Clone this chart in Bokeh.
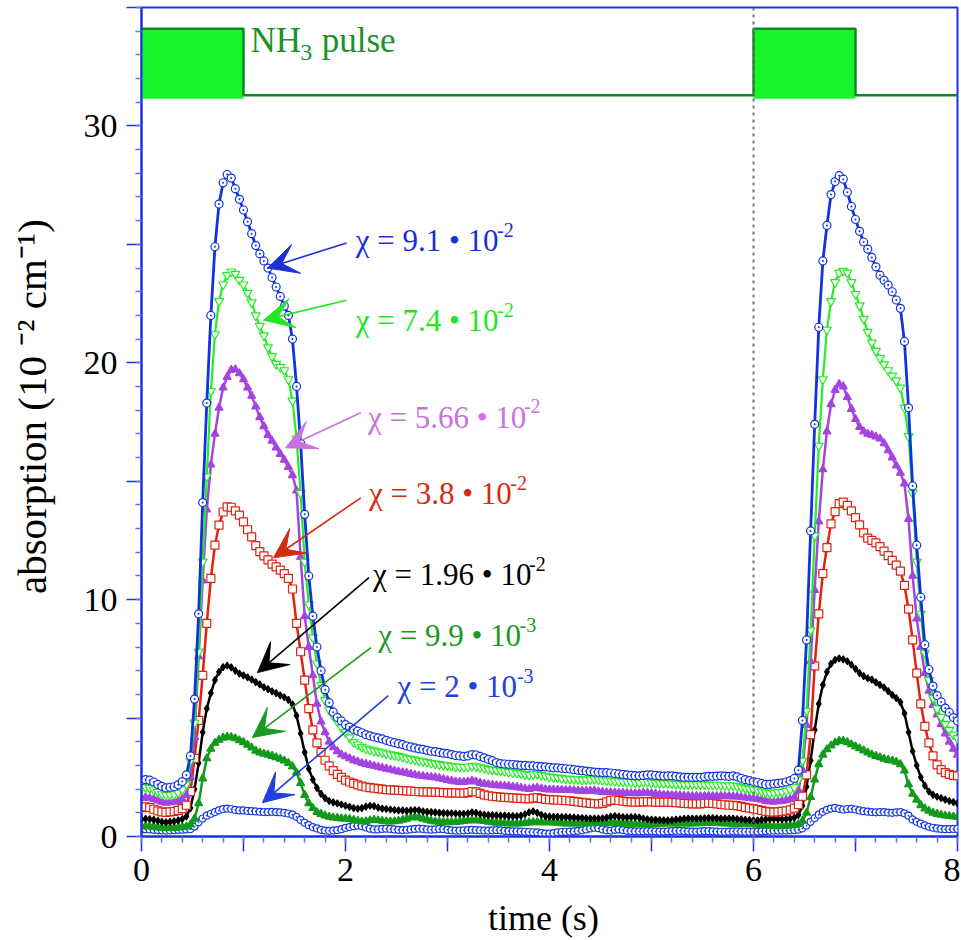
import math
from bokeh.plotting import figure
from bokeh.layouts import column
from bokeh.models import Range1d, FixedTicker, Label, Arrow, VeeHead, Span
from bokeh.embed import file_html
from bokeh.resources import INLINE

# ---------------- data ----------------
time_s = [round(0.04 * i, 2) for i in range(201)]

chi_91 = [
    2.35, 2.40, 2.38, 2.30, 2.20, 2.12, 2.05, 2.08, 2.10, 2.18,
    2.32, 2.60, 3.40, 5.80, 9.40, 14.1, 18.3, 22.0, 24.9, 26.7,
    27.6, 27.95, 27.8, 27.35, 26.9, 26.45, 25.95, 25.45, 24.95, 24.6,
    24.3, 24.0, 23.6, 23.2, 22.8, 22.4, 22.0, 21.0, 19.0, 16.6,
    13.6, 11.0, 9.3, 8.0, 7.0, 6.2, 5.65, 5.25, 5.02, 4.88,
    4.72, 4.62, 4.52, 4.45, 4.38, 4.30, 4.25, 4.20, 4.16, 4.12,
    4.06, 4.00, 3.96, 3.92, 3.88, 3.82, 3.78, 3.74, 3.70, 3.68,
    3.64, 3.60, 3.58, 3.55, 3.52, 3.50, 3.46, 3.42, 3.40, 3.38,
    3.40, 3.46, 3.44, 3.38, 3.32, 3.26, 3.20, 3.12, 3.08, 3.06,
    3.05, 3.04, 3.02, 3.00, 3.00, 2.98, 2.98, 2.96, 2.95, 2.94,
    2.92, 2.90, 2.90, 2.88, 2.86, 2.85, 2.82, 2.80, 2.78, 2.76,
    2.74, 2.72, 2.71, 2.70, 2.70, 2.68, 2.66, 2.64, 2.62, 2.60,
    2.58, 2.57, 2.56, 2.58, 2.60, 2.60, 2.58, 2.56, 2.55, 2.56,
    2.56, 2.54, 2.52, 2.50, 2.50, 2.50, 2.50, 2.50, 2.52, 2.54,
    2.54, 2.55, 2.56, 2.55, 2.54, 2.56, 2.52, 2.46, 2.40, 2.36,
    2.32, 2.28, 2.24, 2.20, 2.20, 2.22, 2.24, 2.26, 2.30, 2.36,
    2.45, 2.80, 4.90, 8.30, 12.9, 17.4, 21.5, 24.3, 25.8, 27.1,
    27.65, 27.9, 27.75, 27.2, 26.6, 26.05, 25.55, 25.1, 24.8, 24.45,
    24.05, 23.7, 23.48, 23.28, 23.0, 22.65, 22.3, 20.9, 18.1, 14.8,
    12.3, 10.1, 8.1, 7.05, 6.35, 5.95, 5.68, 5.42, 5.24, 5.02,
    4.88,
]

chi_74 = [
    2.05, 2.08, 2.05, 1.98, 1.88, 1.80, 1.75, 1.76, 1.78, 1.85,
    1.98, 2.20, 3.20, 4.80, 7.80, 11.6, 15.2, 18.8, 21.2, 22.6,
    23.3, 23.7, 23.85, 23.75, 23.5, 23.3, 22.95, 22.55, 22.0, 21.55,
    21.15, 20.65, 20.28, 19.95, 19.82, 19.68, 19.3, 18.4, 16.8, 14.5,
    11.6, 9.8, 8.4, 7.3, 6.4, 5.75, 5.35, 5.1, 4.85, 4.6,
    4.40, 4.18, 3.98, 3.88, 3.78, 3.71, 3.66, 3.62, 3.58, 3.55,
    3.50, 3.46, 3.43, 3.40, 3.36, 3.30, 3.27, 3.24, 3.20, 3.17,
    3.14, 3.10, 3.07, 3.05, 3.02, 3.00, 2.98, 2.96, 2.94, 2.93,
    2.94, 2.98, 2.96, 2.92, 2.88, 2.84, 2.82, 2.80, 2.78, 2.76,
    2.72, 2.70, 2.68, 2.66, 2.62, 2.60, 2.62, 2.64, 2.60, 2.56,
    2.52, 2.50, 2.48, 2.46, 2.44, 2.43, 2.42, 2.42, 2.40, 2.40,
    2.41, 2.42, 2.40, 2.38, 2.36, 2.35, 2.34, 2.32, 2.31, 2.30,
    2.29, 2.28, 2.28, 2.30, 2.30, 2.28, 2.26, 2.25, 2.25, 2.25,
    2.24, 2.22, 2.21, 2.20, 2.20, 2.21, 2.20, 2.20, 2.20, 2.19,
    2.18, 2.18, 2.17, 2.16, 2.16, 2.15, 2.12, 2.08, 2.04, 2.01,
    1.98, 1.95, 1.90, 1.86, 1.84, 1.84, 1.86, 1.88, 1.92, 1.98,
    2.08, 2.40, 3.20, 5.30, 8.70, 12.7, 16.5, 19.3, 21.4, 22.6,
    23.4, 23.8, 23.88, 23.8, 23.4, 22.9, 22.42, 21.85, 21.3, 20.85,
    20.5, 20.2, 19.93, 19.68, 19.45, 19.25, 18.95, 18.1, 16.9, 14.5,
    11.6, 9.4, 7.75, 6.6, 5.85, 5.4, 5.05, 4.75, 4.5, 4.3,
    4.15,
]

chi_566 = [
    1.62, 1.65, 1.62, 1.58, 1.52, 1.46, 1.42, 1.44, 1.46, 1.50,
    1.58, 1.75, 2.50, 4.20, 7.60, 10.8, 13.8, 15.7, 17.0, 18.1,
    18.95, 19.4, 19.7, 19.72, 19.55, 19.3, 18.95, 18.6, 18.15, 17.7,
    17.32, 16.95, 16.7, 16.42, 16.15, 15.9, 15.6, 15.25, 14.6, 11.8,
    9.3, 8.0, 6.8, 5.6, 4.85, 4.4, 4.0, 3.76, 3.6, 3.46,
    3.38, 3.30, 3.22, 3.16, 3.10, 3.06, 3.02, 2.98, 2.94, 2.90,
    2.86, 2.82, 2.78, 2.74, 2.71, 2.68, 2.64, 2.60, 2.57, 2.55,
    2.53, 2.51, 2.49, 2.46, 2.42, 2.38, 2.35, 2.32, 2.30, 2.30,
    2.32, 2.36, 2.32, 2.26, 2.22, 2.20, 2.18, 2.16, 2.15, 2.14,
    2.12, 2.10, 2.08, 2.05, 2.02, 2.00, 2.04, 2.06, 2.02, 1.99,
    1.98, 1.98, 1.97, 1.97, 1.96, 1.96, 1.95, 1.93, 1.92, 1.92,
    1.92, 1.93, 1.90, 1.88, 1.86, 1.86, 1.85, 1.84, 1.84, 1.83,
    1.82, 1.82, 1.82, 1.84, 1.84, 1.82, 1.80, 1.78, 1.76, 1.76,
    1.75, 1.74, 1.73, 1.72, 1.71, 1.70, 1.70, 1.69, 1.70, 1.70,
    1.70, 1.70, 1.71, 1.70, 1.70, 1.69, 1.68, 1.66, 1.64, 1.62,
    1.60, 1.58, 1.55, 1.50, 1.47, 1.46, 1.48, 1.50, 1.53, 1.57,
    1.66, 1.95, 2.80, 4.70, 7.40, 10.4, 13.3, 15.5, 17.1, 18.25,
    18.85, 19.1, 19.0, 18.55, 18.05, 17.62, 17.28, 17.1, 17.0, 16.95,
    16.88, 16.8, 16.6, 16.3, 16.0, 15.66, 15.35, 14.9, 13.4, 11.0,
    9.2, 8.0, 6.9, 6.15, 5.55, 5.15, 4.75, 4.35, 4.0, 3.7,
    3.45,
]

chi_38 = [
    1.22, 1.25, 1.22, 1.15, 1.08, 1.04, 1.02, 1.04, 1.06, 1.10,
    1.18, 1.32, 1.90, 3.30, 4.90, 6.80, 9.00, 10.9, 12.3, 13.15,
    13.7, 13.92, 13.9, 13.75, 13.57, 13.28, 12.95, 12.65, 12.28, 12.03,
    11.85, 11.68, 11.5, 11.38, 11.25, 11.1, 10.9, 10.45, 9.0, 7.8,
    6.6, 5.4, 4.5, 3.95, 3.55, 3.22, 2.98, 2.78, 2.62, 2.5,
    2.38, 2.30, 2.24, 2.18, 2.13, 2.09, 2.06, 2.04, 2.02, 2.00,
    1.98, 1.97, 1.96, 1.95, 1.94, 1.93, 1.92, 1.90, 1.89, 1.88,
    1.88, 1.87, 1.87, 1.86, 1.85, 1.84, 1.84, 1.84, 1.83, 1.83,
    1.85, 1.90, 1.88, 1.82, 1.76, 1.72, 1.70, 1.68, 1.66, 1.65,
    1.64, 1.63, 1.62, 1.61, 1.60, 1.59, 1.62, 1.64, 1.60, 1.57,
    1.56, 1.55, 1.54, 1.53, 1.52, 1.50, 1.48, 1.46, 1.44, 1.42,
    1.40, 1.39, 1.38, 1.40, 1.46, 1.52, 1.54, 1.52, 1.49, 1.47,
    1.46, 1.45, 1.45, 1.46, 1.47, 1.46, 1.45, 1.45, 1.45, 1.45,
    1.44, 1.43, 1.42, 1.40, 1.39, 1.38, 1.38, 1.38, 1.40, 1.41,
    1.40, 1.38, 1.36, 1.34, 1.32, 1.31, 1.30, 1.27, 1.23, 1.20,
    1.17, 1.14, 1.10, 1.06, 1.04, 1.03, 1.04, 1.06, 1.08, 1.12,
    1.20, 1.35, 1.70, 2.60, 4.30, 7.20, 9.40, 11.1, 12.2, 13.2,
    13.72, 14.05, 14.12, 13.98, 13.75, 13.46, 13.16, 12.82, 12.6, 12.5,
    12.4, 12.24, 12.05, 11.86, 11.66, 11.46, 11.2, 10.6, 9.6, 8.3,
    6.9, 5.6, 4.65, 3.95, 3.4, 3.02, 2.82, 2.7, 2.62, 2.58,
    2.56,
]

chi_196 = [
    0.72, 0.75, 0.74, 0.70, 0.66, 0.62, 0.60, 0.62, 0.64, 0.68,
    0.74, 0.85, 1.20, 2.00, 3.10, 4.40, 5.40, 6.05, 6.60, 6.95,
    7.15, 7.22, 7.14, 7.00, 6.88, 6.80, 6.72, 6.63, 6.52, 6.42,
    6.30, 6.22, 6.13, 6.05, 5.96, 5.88, 5.77, 5.58, 5.10, 4.35,
    3.55, 2.86, 2.40, 2.05, 1.80, 1.62, 1.50, 1.44, 1.40, 1.35,
    1.30, 1.25, 1.20, 1.18, 1.20, 1.26, 1.30, 1.28, 1.22, 1.18,
    1.16, 1.14, 1.12, 1.10, 1.10, 1.08, 1.10, 1.12, 1.10, 1.06,
    1.04, 1.03, 1.02, 1.00, 0.99, 0.98, 0.98, 0.97, 0.96, 0.96,
    0.98, 1.02, 1.00, 0.95, 0.92, 0.90, 0.90, 0.89, 0.88, 0.88,
    0.87, 0.86, 0.86, 0.88, 0.94, 1.02, 1.06, 1.00, 0.92, 0.86,
    0.84, 0.83, 0.83, 0.82, 0.82, 0.81, 0.80, 0.79, 0.78, 0.77,
    0.76, 0.76, 0.76, 0.77, 0.80, 0.84, 0.86, 0.84, 0.82, 0.81,
    0.82, 0.82, 0.80, 0.76, 0.73, 0.71, 0.70, 0.69, 0.68, 0.68,
    0.69, 0.71, 0.73, 0.75, 0.76, 0.76, 0.76, 0.76, 0.77, 0.78,
    0.78, 0.77, 0.76, 0.76, 0.76, 0.76, 0.74, 0.72, 0.70, 0.69,
    0.68, 0.68, 0.70, 0.72, 0.74, 0.75, 0.74, 0.73, 0.74, 0.76,
    0.80, 0.90, 1.30, 2.10, 3.20, 4.50, 5.60, 6.40, 6.95, 7.29,
    7.46, 7.52, 7.48, 7.40, 7.25, 7.08, 6.90, 6.77, 6.68, 6.62,
    6.51, 6.40, 6.29, 6.14, 5.98, 5.84, 5.67, 5.20, 4.40, 3.60,
    3.00, 2.50, 2.15, 1.90, 1.76, 1.68, 1.62, 1.56, 1.50, 1.45,
    1.40,
]

chi_99 = [
    0.42, 0.44, 0.42, 0.40, 0.38, 0.36, 0.35, 0.35, 0.36, 0.38,
    0.40, 0.42, 0.50, 0.75, 1.40, 2.45, 3.30, 3.70, 3.95, 4.08,
    4.17, 4.20, 4.19, 4.14, 4.06, 3.98, 3.87, 3.75, 3.62, 3.54,
    3.49, 3.45, 3.40, 3.34, 3.28, 3.20, 3.10, 2.96, 2.70, 2.25,
    1.75, 1.40, 1.20, 1.03, 0.95, 0.88, 0.83, 0.80, 0.78, 0.76,
    0.75, 0.73, 0.70, 0.66, 0.63, 0.64, 0.68, 0.70, 0.68, 0.66,
    0.64, 0.63, 0.64, 0.66, 0.70, 0.75, 0.80, 0.82, 0.80, 0.75,
    0.70, 0.66, 0.63, 0.62, 0.61, 0.60, 0.60, 0.61, 0.63, 0.65,
    0.67, 0.68, 0.68, 0.67, 0.65, 0.62, 0.60, 0.58, 0.57, 0.56,
    0.55, 0.54, 0.54, 0.55, 0.57, 0.59, 0.60, 0.60, 0.60, 0.60,
    0.60, 0.59, 0.58, 0.56, 0.55, 0.54, 0.54, 0.54, 0.54, 0.55,
    0.56, 0.56, 0.57, 0.57, 0.57, 0.58, 0.57, 0.56, 0.55, 0.54,
    0.53, 0.52, 0.52, 0.51, 0.51, 0.51, 0.52, 0.53, 0.54, 0.54,
    0.54, 0.54, 0.54, 0.54, 0.55, 0.55, 0.56, 0.56, 0.57, 0.57,
    0.57, 0.57, 0.56, 0.55, 0.54, 0.53, 0.52, 0.52, 0.51, 0.51,
    0.51, 0.50, 0.48, 0.46, 0.44, 0.43, 0.43, 0.44, 0.45, 0.46,
    0.48, 0.52, 0.66, 1.00, 1.66, 2.40, 3.05, 3.45, 3.68, 3.84,
    3.96, 4.04, 4.04, 3.98, 3.89, 3.80, 3.72, 3.63, 3.54, 3.46,
    3.40, 3.34, 3.28, 3.23, 3.20, 3.15, 3.05, 2.78, 2.20, 1.80,
    1.55, 1.32, 1.18, 1.08, 1.00, 0.95, 0.91, 0.88, 0.86, 0.84,
    0.82,
]

chi_2 = [
    0.30, 0.31, 0.30, 0.28, 0.27, 0.26, 0.25, 0.26, 0.27, 0.28,
    0.29, 0.30, 0.31, 0.42, 0.60, 0.76, 0.88, 0.96, 1.03, 1.10,
    1.16, 1.18, 1.16, 1.12, 1.10, 1.10, 1.08, 1.07, 1.06, 1.04,
    1.03, 1.03, 1.04, 1.03, 1.02, 1.00, 0.97, 0.92, 0.83, 0.70,
    0.58, 0.48, 0.40, 0.34, 0.28, 0.25, 0.24, 0.25, 0.27, 0.31,
    0.36, 0.40, 0.44, 0.46, 0.44, 0.38, 0.33, 0.30, 0.30, 0.32,
    0.33, 0.32, 0.30, 0.28, 0.27, 0.28, 0.30, 0.32, 0.33, 0.32,
    0.30, 0.29, 0.30, 0.32, 0.31, 0.28, 0.26, 0.25, 0.25, 0.26,
    0.27, 0.28, 0.27, 0.26, 0.25, 0.25, 0.26, 0.27, 0.26, 0.24,
    0.23, 0.22, 0.22, 0.21, 0.20, 0.19, 0.18, 0.17, 0.14, 0.12,
    0.12, 0.14, 0.17, 0.19, 0.20, 0.21, 0.22, 0.24, 0.26, 0.30,
    0.34, 0.37, 0.35, 0.30, 0.26, 0.25, 0.28, 0.30, 0.27, 0.24,
    0.23, 0.22, 0.22, 0.22, 0.23, 0.23, 0.22, 0.21, 0.21, 0.22,
    0.23, 0.24, 0.24, 0.23, 0.22, 0.21, 0.21, 0.22, 0.23, 0.23,
    0.22, 0.21, 0.20, 0.20, 0.21, 0.22, 0.22, 0.21, 0.20, 0.20,
    0.20, 0.21, 0.22, 0.23, 0.24, 0.25, 0.25, 0.25, 0.25, 0.26,
    0.27, 0.29, 0.34, 0.46, 0.62, 0.78, 0.92, 1.04, 1.12, 1.18,
    1.21, 1.17, 1.14, 1.16, 1.17, 1.14, 1.10, 1.07, 1.05, 1.03,
    1.02, 1.03, 1.03, 1.01, 1.00, 1.02, 1.03, 0.98, 0.88, 0.72,
    0.62, 0.54, 0.47, 0.41, 0.37, 0.34, 0.32, 0.31, 0.31, 0.32,
    0.32,
]

# NH3 pulse trace
pulse_t = [0.0, 1.0, 1.0, 6.0, 6.0, 7.0, 7.0, 8.0]
pulse_v = [34.1, 34.1, 31.3, 31.3, 34.1, 34.1, 31.3, 31.3]
pulse_on = [0.0, 6.0]
pulse_off = [1.0, 7.0]
pulse_low = 31.15
pulse_high = 34.1

# axis ticks
x_major = [0, 1, 2, 3, 4, 5, 6, 7, 8]
x_minor = [round(0.2 * i, 1) for i in range(41)]
x_hidden = {1: "", 3: "", 5: "", 7: ""}
y_major = [0, 5, 10, 15, 20, 25, 30, 35]
y_minor = list(range(36))
y_hidden = {5: "", 15: "", 25: "", 35: ""}

x_title = "time (s)"
y_title = "\u00a0\u00a0\u00a0absorption (10 \u207b\u00b2 cm\u207b\u00b9)"

# annotation texts
label_main = ["χ = 9.1 • 10", "χ = 7.4 • 10", "χ = 5.66 • 10", "χ = 3.8 • 10",
              "χ = 1.96 • 10", "χ = 9.9 • 10", "χ = 2 • 10"]
label_sup = ["-2", "-2", "-2", "-2", "-2", "-3", "-3"]

# ---------------- style / layout ----------------
FONT = "Liberation Serif"
AXIS_BLUE = "#1a30e0"
MINOR_BLUE = "#5d72ea"
LIFT = 12  # screen px correction for text baseline placement

label_x = [2.10, 2.10, 2.22, 2.23, 2.27, 2.32, 2.51]
label_y = [24.64, 21.27, 17.20, 13.97, 10.55, 7.97, 5.82]
arrow_x0 = [2.01, 2.01, 2.15, 2.15, 2.23, 2.25, 2.42]
arrow_y0 = [25.06, 22.64, 17.89, 14.30, 10.93, 7.97, 5.95]
arrow_x1 = [1.235, 1.196, 1.412, 1.294, 1.137, 1.088, 1.186]
arrow_y1 = [24.00, 21.80, 16.41, 11.77, 6.92, 4.18, 1.43]
label_colors = ["#1a2fd8", "#22e622", "#c872e0", "#d42a10", "#000000", "#1a9a22", "#2040e0"]

W = {' ': 0.25, '=': 0.564, '•': 0.35, '.': 0.25, 'χ': 0.5, '-': 0.333,
     'N': 0.722, 'H': 0.722}


def tw(s, size):
    return sum(W.get(ch, 0.5) for ch in s) * size * 0.943


p = figure(width=960, height=896, x_range=Range1d(0, 8), y_range=Range1d(0, 35),
           output_backend="svg", toolbar_location=None,
           min_border_left=141, min_border_right=3, min_border_top=7, min_border_bottom=60)
p.background_fill_color = "white"
p.border_fill_color = "white"
p.xgrid.visible = False
p.ygrid.visible = False
p.outline_line_color = AXIS_BLUE
p.outline_line_width = 2
p.outline_line_alpha = 1.0

for ax, ticks, minor, hidden, standoff in (
        (p.xaxis[0], x_major, x_minor, x_hidden, 7),
        (p.yaxis[0], y_major, y_minor, y_hidden, 9)):
    ax.ticker = FixedTicker(ticks=ticks, minor_ticks=minor)
    ax.major_label_overrides = hidden
    ax.axis_line_color = AXIS_BLUE
    ax.axis_line_width = 2
    ax.major_tick_line_color = AXIS_BLUE
    ax.major_tick_line_width = 1.5
    ax.major_tick_out = 15
    ax.major_tick_in = 0
    ax.minor_tick_line_color = MINOR_BLUE
    ax.minor_tick_line_width = 1.5
    ax.minor_tick_out = 6
    ax.minor_tick_in = 0
    ax.major_label_text_font = FONT
    ax.major_label_text_font_size = "34px"
    ax.major_label_text_color = "black"
    ax.major_label_standoff = standoff
    ax.axis_label_text_font = FONT
    ax.axis_label_text_font_style = "normal"
    ax.axis_label_text_color = "black"

p.yaxis[0].axis_label = y_title
p.yaxis[0].axis_label_text_font_size = "41px"
p.yaxis[0].axis_label_standoff = 26

# NH3 pulse
p.quad(left=pulse_on, right=pulse_off, bottom=pulse_low, top=pulse_high,
       fill_color="#18f52c", line_color=None)
p.line(pulse_t, pulse_v, line_color="#0f8a22", line_width=2.5)

p.add_layout(Span(location=6.0, dimension="height", line_color="#777777",
                  line_dash="3 4", line_width=2))

series = [
    (chi_2, "#1a3ce6", "circle_dot", 7, "white", 2.5),
    (chi_99, "#139a1a", "triangle", 8, "#139a1a", 2.5),
    (chi_196, "#000000", "diamond", 7, "#000000", 2.5),
    (chi_38, "#e0220e", "square", 8, "white", 2.5),
    (chi_566, "#a444e0", "triangle", 8, "#a444e0", 2.5),
    (chi_74, "#22ee22", "inverted_triangle", 9, "white", 2.2),
    (chi_91, "#1133dd", "circle_dot", 8, "white", 2.8),
]
for vals, col, mk, sz, fill, lw in series:
    xs = time_s[:len(vals)]
    p.line(xs, vals, line_color=col, line_width=lw)
    p.scatter(xs, vals, marker=mk, size=sz, line_color=col, fill_color=fill, line_width=1.2)

# annotations with arrows
MAIN_FS = 31
for i in range(len(label_main)):
    c = label_colors[i]
    p.add_layout(Arrow(end=VeeHead(size=30, fill_color=c, line_color=c, line_width=1),
                       x_start=arrow_x0[i], y_start=arrow_y0[i],
                       x_end=arrow_x1[i], y_end=arrow_y1[i],
                       line_color=c, line_width=1.6))
    p.add_layout(Label(x=label_x[i], y=label_y[i], y_offset=LIFT, text=label_main[i],
                       text_font=FONT, text_font_size=f"{MAIN_FS}px", text_color=c,
                       text_baseline="alphabetic", text_align="left"))
    p.add_layout(Label(x=label_x[i], y=label_y[i], x_offset=tw(label_main[i], MAIN_FS) + 5,
                       y_offset=11 + LIFT, text=label_sup[i], text_font=FONT,
                       text_font_size="20px", text_color=c, text_baseline="alphabetic",
                       text_align="left"))

# NH3 pulse label
NH_COLOR = "#18922a"
nh_x, nh_y = 1.069, 33.08
p.add_layout(Label(x=nh_x, y=nh_y, y_offset=LIFT, text="NH", text_font=FONT,
                   text_font_size="35px", text_color=NH_COLOR, text_baseline="alphabetic"))
p.add_layout(Label(x=nh_x, y=nh_y, x_offset=tw("NH", 35) + 2, y_offset=-12 + LIFT, text="3",
                   text_font=FONT, text_font_size="24px", text_color=NH_COLOR,
                   text_baseline="alphabetic"))
p.add_layout(Label(x=nh_x, y=nh_y, x_offset=tw("NH", 35) + 2 + tw("3", 24) + tw(" ", 35) + 2,
                   y_offset=LIFT, text="pulse", text_font=FONT, text_font_size="35px",
                   text_color=NH_COLOR, text_baseline="alphabetic"))

# strip below the plot carrying the x-axis title, aligned to the same x range
p2 = figure(width=960, height=42, x_range=p.x_range, y_range=Range1d(0, 42),
            output_backend="svg", toolbar_location=None,
            x_axis_location=None, y_axis_location=None,
            min_border_left=141, min_border_right=3, min_border_top=0, min_border_bottom=0)
p2.outline_line_color = None
p2.xgrid.visible = False
p2.ygrid.visible = False
p2.background_fill_color = "white"
p2.border_fill_color = "white"
p2.add_layout(Label(x=3.94, y=9, y_offset=LIFT, text=x_title, text_font=FONT,
                    text_font_size="36px", text_color="black", text_align="center",
                    text_baseline="alphabetic"))

layout = column(p, p2, spacing=0)
open("out.html", "w").write(file_html(layout, INLINE))
